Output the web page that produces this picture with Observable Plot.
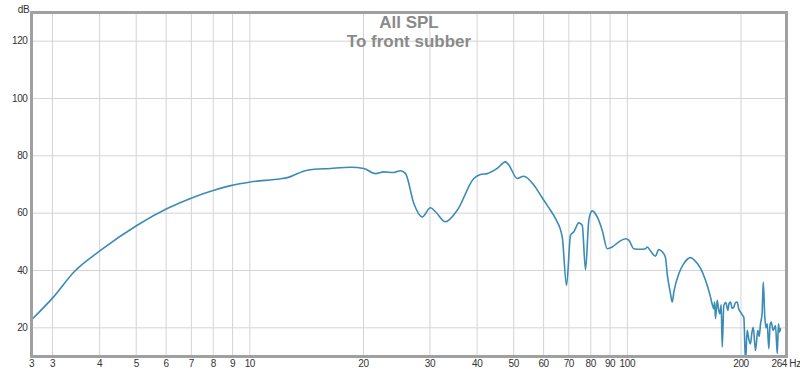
<!DOCTYPE html>
<html><head><meta charset="utf-8">
<script src="https://cdn.jsdelivr.net/npm/d3@7"></script>
<script src="https://cdn.jsdelivr.net/npm/@observablehq/plot@0.6"></script>
<style>
body{margin:0;background:#fff;}
svg{font-family:"Liberation Sans",Arial,sans-serif;}
g[font-size="10"] text{letter-spacing:-0.4px;}
</style></head>
<body><div id="chart"></div>
<script>
const freqs = [2.64,3.02,3.42,4.02,5.03,6.04,7.04,8.03,8.89,10.04,12.06,12.56,14.19,16.36,18.48,20.04,21.52,22.64,24.06,25.07,25.85,27.19,28.61,30.10,31.03,32.98,35.43,39.20,40.83,42.54,45.20,47.55,48.53,51.08,53.18,56.52,58.88,60.08,62.58,64.53,67.22,69.01,70.71,72.15,74.38,75.94,77.48,79.07,80.72,83.21,85.80,88.45,91.19,94.94,98.88,100.9,104.0,108.3,111.7,112.9,115.2,118.7,121.1,123.7,126.2,127.5,130.1,131.5,132.8,136.9,141.1,147.0,150.0,156.3,161.1,163.5,166.1,167.8,169.4,170.3,171.2,173.0,174.4,175.8,177.2,178.4,180.1,182.3,184.6,186.0,187.6,189.5,191.4,193.4,195.4,197.4,199.4,201.5,203.5,205.6,207.7,209.8,211.9,213.6,215.5,218.5,221.6,223.5,225.3,227.5,229.1,231.3,233.0,234.7,237.0,238.8,240.5,243.4,246.9,249.5,251.4,253.0,254.5];
const spl = [22.8,30.8,39.5,47,55.8,61.6,65.4,68,69.6,70.9,72,72.4,75,75.6,76,75.6,73.8,74.4,74.2,74.8,73.8,63.4,58.7,61.9,60.5,57,61,72.1,73.5,73.8,75.6,77.9,76.8,72.1,72.9,69.8,66.3,64.5,61,58.1,51.7,34.8,52.3,53.5,56.6,55.8,40.3,57.6,60.8,58.7,54,47.6,48.2,50,51.1,50.6,47.6,47.4,47.6,48.2,46.8,45,47.3,46.5,44.5,38.9,31.9,29,32.5,38.9,42.4,44.5,43.8,40.7,36.6,34,30.7,28.2,26.7,29,23.2,29.6,26.5,24.9,28,13.3,27.8,28.8,26.1,28.5,29,26.8,27.2,28.8,29,26.5,25.5,24.5,23.7,8,19.1,16,14.4,18,20.2,12.1,19.1,17,21.4,25,36,23.7,20,21.4,12.7,21,22,19.1,20.8,11,21.4,18.5,19.7];
const gridFreqs = [3,4,5,6,7,8,9,10,20,30,40,50,60,70,80,90,100,200];
const xTickValues = [2.64,3,4,5,6,7,8,9,10,20,30,40,50,60,70,80,90,100,200];
const xTickLabels = ["3","3","4","5","6","7","8","9","10","20","30","40","50","60","70","80","90","100","200"];
const yTicks = [20,40,60,80,100,120];
const titleLines = ["All SPL","To front subber"];

const data = freqs.map((f,i)=>({f, db: spl[i]}));

const chart = Plot.plot({
  width: 800, height: 373,
  marginLeft: 31, marginRight: 14, marginTop: 12, marginBottom: 17,
  x: {type: "log", domain: [2.64, 264], axis: null},
  y: {domain: [10, 130], axis: null},
  marks: [
    Plot.ruleX(gridFreqs, {stroke: "#d4d4d4", strokeWidth: 1}),
    Plot.ruleY(yTicks, {stroke: "#d4d4d4", strokeWidth: 1}),
    Plot.text([titleLines[0]], {frameAnchor: "top", dy: 3, fontSize: 17, fontWeight: "bold", fill: "#8a8a8a"}),
    Plot.text([titleLines[1]], {frameAnchor: "top", dy: 22, fontSize: 17, fontWeight: "bold", fill: "#8a8a8a"}),
    Plot.line(data, {x: "f", y: "db", stroke: "#3a8bb7", strokeWidth: 1.6, curve: "monotone-x", clip: true}),
    Plot.frame({stroke: "#a0a0a0", strokeWidth: 3}),
    Plot.text(xTickValues, {x: d => d, text: (d, i) => xTickLabels[i], frameAnchor: "bottom", dy: 10, fontSize: 10, fill: "#333"}),
    Plot.text(["264 Hz"], {frameAnchor: "bottom-right", textAnchor: "start", dx: -15, dy: 10, fontSize: 10, fill: "#333"}),
    Plot.text(yTicks, {y: d => d, text: d => String(d), frameAnchor: "left", textAnchor: "end", dx: -4, fontSize: 10, fill: "#333"}),
    Plot.text(["dB"], {frameAnchor: "top-left", textAnchor: "middle", dx: -8, dy: -7, fontSize: 10, fill: "#333"})
  ]
});
document.getElementById("chart").appendChild(chart);
</script></body></html>
